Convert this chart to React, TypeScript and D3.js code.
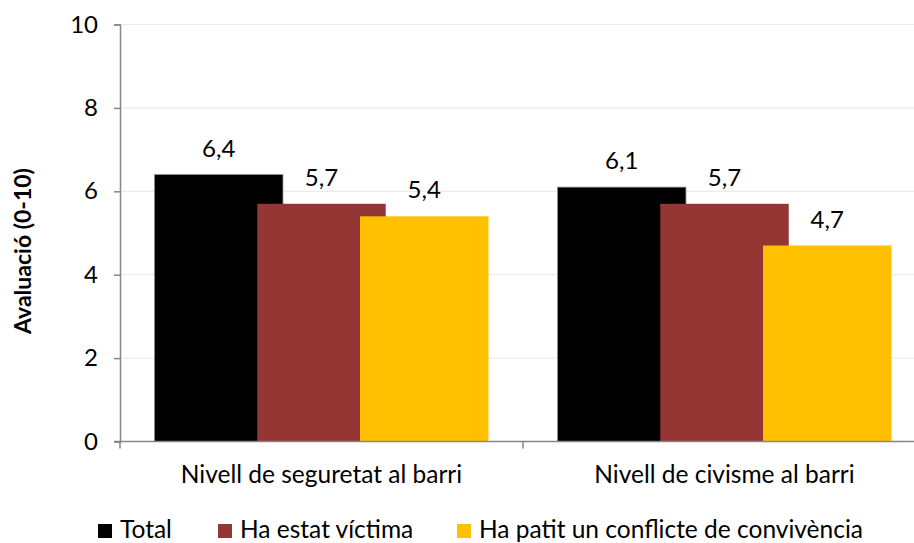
import React, { useEffect, useRef } from "react";
import * as d3 from "d3";

const categories = ["Nivell de seguretat al barri", "Nivell de civisme al barri"];
const seriesNames = ["Total", "Ha estat víctima", "Ha patit un conflicte de convivència"];
const seriesColors = ["#000000", "#943634", "#FFC000"];
const totalValues = [6.4, 6.1];
const victimValues = [5.7, 5.7];
const conflictValues = [5.4, 4.7];
const yTicks = [0, 2, 4, 6, 8, 10];

const FONT = "Lato, 'Noto Sans', sans-serif";

export default function App() {
  const svgRef = useRef<SVGSVGElement>(null);

  useEffect(() => {
    const W = 914;
    const H = 543;
    const margin = { top: 24.5, right: -12, bottom: 101.5, left: 120 };
    const svg = d3.select(svgRef.current);
    svg.selectAll("*").remove();
    svg.attr("width", W).attr("height", H);

    const series = [totalValues, victimValues, conflictValues];

    const x = d3.scaleBand<string>()
      .domain(categories)
      .range([margin.left, W - margin.right]);

    const y = d3.scaleLinear()
      .domain([0, 10])
      .range([H - margin.bottom, margin.top]);

    const barStep = x.bandwidth() * 0.255;
    const barWidth = barStep * 1.25;
    const sx = d3.scalePoint<number>()
      .domain([0, 1, 2])
      .range([-barStep, barStep]);

    // gridlines
    svg.append("g")
      .selectAll("line")
      .data(yTicks.filter(d => d > 0))
      .enter()
      .append("line")
      .attr("x1", margin.left)
      .attr("x2", W)
      .attr("y1", d => y(d))
      .attr("y2", d => y(d))
      .attr("stroke", "#ebebeb")
      .attr("stroke-width", 1.2);

    // bars
    series.forEach((vals, si) => {
      svg.append("g")
        .selectAll("rect")
        .data(categories)
        .enter()
        .append("rect")
        .attr("x", c => x(c)! + x.bandwidth() / 2 + sx(si)! - barWidth / 2)
        .attr("y", (c, i) => y(vals[i]))
        .attr("width", barWidth)
        .attr("height", (c, i) => y(0) - y(vals[i]))
        .attr("fill", seriesColors[si])
        .attr("stroke", si === 0 ? "#8c8c8c" : "none")
        .attr("stroke-width", 0.8);

      svg.append("g")
        .selectAll("text")
        .data(categories)
        .enter()
        .append("text")
        .attr("x", c => x(c)! + x.bandwidth() / 2 + sx(si)!)
        .attr("y", (c, i) => y(vals[i]) - 18)
        .attr("text-anchor", "middle")
        .attr("font-family", FONT)
        .attr("font-size", "24px")
        .attr("fill", "#000")
        .text((c, i) => d3.format(".1f")(vals[i]).replace(".", ","));
    });

    // y axis
    const yAxis = svg.append("g")
      .attr("transform", `translate(${margin.left},0)`)
      .call(d3.axisLeft(y).tickValues(yTicks).tickSize(6).tickPadding(16));
    yAxis.select(".domain").attr("stroke", "#868686").attr("stroke-width", 1.5);
    yAxis.selectAll(".tick line").attr("stroke", "#868686").attr("stroke-width", 1.5);
    yAxis.selectAll(".tick text")
      .attr("font-family", FONT)
      .attr("font-size", "24px")
      .attr("fill", "#000");

    // x axis
    const xAxisG = svg.append("g").attr("transform", `translate(0,${y(0)})`);
    xAxisG.append("line")
      .attr("x1", margin.left - 6)
      .attr("x2", W)
      .attr("stroke", "#868686")
      .attr("stroke-width", 1.5);
    const bounds = [margin.left, ...categories.map(c => x(c)! + x.bandwidth())];
    xAxisG.selectAll(".xt")
      .data(bounds)
      .enter()
      .append("line")
      .attr("x1", d => d)
      .attr("x2", d => d)
      .attr("y1", 0)
      .attr("y2", 7)
      .attr("stroke", "#868686")
      .attr("stroke-width", 1.5);
    xAxisG.selectAll(".xl")
      .data(categories)
      .enter()
      .append("text")
      .attr("x", c => x(c)! + x.bandwidth() / 2)
      .attr("y", 41)
      .attr("text-anchor", "middle")
      .attr("font-family", FONT)
      .attr("font-size", "24.5px")
      .attr("fill", "#000")
      .text(c => c);

    // y title
    svg.append("text")
      .attr("transform", `translate(31,251) rotate(-90)`)
      .attr("text-anchor", "middle")
      .attr("font-family", FONT)
      .attr("font-weight", "bold")
      .attr("font-size", "23px")
      .attr("fill", "#000")
      .text("Avaluació (0-10)");

    // legend
    const legendX = [98, 218, 457];
    const legend = svg.append("g");
    seriesNames.forEach((name, i) => {
      legend.append("rect")
        .attr("x", legendX[i])
        .attr("y", 524)
        .attr("width", 14)
        .attr("height", 14)
        .attr("fill", seriesColors[i]);
      legend.append("text")
        .attr("x", legendX[i] + 22)
        .attr("y", 538)
        .attr("font-family", FONT)
        .attr("font-size", "24.5px")
        .attr("fill", "#000")
        .text(name);
    });
  }, []);

  return (
    <svg
      ref={svgRef}
      style={{ position: "absolute", left: 0, top: 0, display: "block", background: "#fff" }}
    />
  );
}
